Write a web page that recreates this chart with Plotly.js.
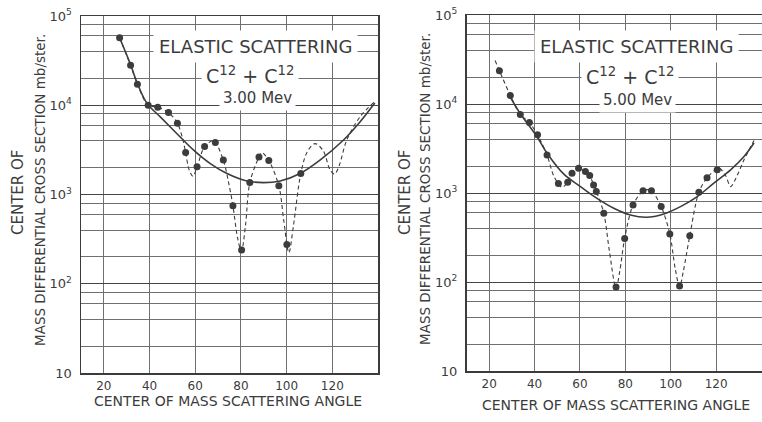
<!DOCTYPE html>
<html>
<head>
<meta charset="utf-8">
<script src="https://cdn.plot.ly/plotly-3.0.1.min.js"></script>
<style>
html,body{margin:0;padding:0;background:#ffffff;}
#chart{width:762px;height:422px;}
</style>
</head>
<body>
<div id="chart"></div>
<script>
// ---------- Data: 3.00 MeV panel ----------
const angle3Pts = [26.9,31.7,34.7,39.4,43.6,48.3,52.2,55.8,60.8,64.1,68.8,72.3,76.5,80.3,83.9,87.9,92.2,96.6,100.1,106.2];
const sigma3Pts = [57000,28000,17200,10000,9500,8300,6300,2950,2040,3440,3820,2430,748,239,1360,2630,2400,1250,276,1720];

const angle3Solid = [26.9,31.7,34.7,38.9,44.7,52,59.3,66.6,73.9,82.6,89.9,97.2,105.9,114.6,124.8,132.1,138.6];
const sigma3Solid = [57000,28500,17500,10500,7400,4800,3140,2220,1720,1420,1360,1420,1720,2430,4050,6500,10600];

const angle3Dash = [26.9,31.7,34.7,39.4,43.6,48.3,52.2,54.5,55.8,57.3,59,60.8,64.1,68,72.3,74.5,76.5,78.5,80.2,82,83.9,87.9,89.2,92.2,96.6,98.8,101,103,106.2,109,112.4,116,119,121,123,126.3,132.1,138.6];
const sigma3Dash = [57000,28000,17200,10000,9500,8300,6300,4200,2950,1900,1600,2040,3440,3990,2430,1400,748,330,230,450,1360,2630,2950,2400,1250,500,223,450,1720,3000,3720,3100,1900,1690,2100,4060,7400,11000];

// ---------- Data: 5.00 MeV panel ----------
const angle5Pts = [24.5,29.3,33.7,37.7,41.3,45.5,50.5,54.6,56.5,59.4,62.4,64.3,66,67.2,70.5,75.9,79.7,83.4,87.8,91.5,95.8,99.6,103.9,108.4,112.4,116,120.5];
const sigma5Pts = [23700,12500,7600,6200,4500,2670,1280,1320,1670,1900,1740,1570,1230,1040,593,88,309,735,1060,1060,703,347,90,331,1020,1480,1820];

const angle5Solid = [28.5,33.7,41,45.5,52.8,60.2,67.5,74.9,82.2,89.3,96.9,104.3,111.7,119,126.4,132.3,136.7];
const sigma5Solid = [13000,7800,4310,2800,1640,1180,870,674,567,534,582,703,912,1290,1820,2570,3640];

const angle5Dash = [22.6,24.5,29.3,33.7,37.7,41.3,45.5,48.5,52.1,54.6,56.5,59.4,62.4,64.3,66,67.2,70.5,73,75.9,77.5,79.7,83.4,87.8,89.5,91.5,95.8,99.6,102,103.9,105.5,108.4,112.4,116,121.2,124.2,126.4,129.4,132.3,136.7];
const sigma5Dash = [30800,23700,12500,7600,6200,4500,2670,1550,1160,1320,1670,1900,1740,1570,1230,1040,593,220,85,130,309,735,1060,1090,1060,703,347,140,88,130,331,1020,1480,1900,1560,1180,1600,2360,3890];

// ---------- Axis ticks ----------
const xTickVals = [20,40,60,80,100,120];
const yMajorVals = [10,100,1000,10000,100000];
const yMajorText = ['10','10<sup>2</sup>','10<sup>3</sup>','10<sup>4</sup>','10<sup>5</sup>'];
const yMinorVals = [20,40,60,80,200,400,600,800,2000,4000,6000,8000,20000,40000,60000,80000];

const titleX = 'CENTER OF MASS SCATTERING ANGLE';
const titleY1 = 'CENTER OF';
const titleY2 = 'MASS DIFFERENTIAL CROSS SECTION mb/ster.';
const boxLine1 = 'ELASTIC SCATTERING';
const boxLine2 = 'C<sup>12</sup> + C<sup>12</sup>';
const energy3 = '3.00 Mev';
const energy5 = '5.00 Mev';

// ---------- Styles ----------
const ink = '#3c3c3c';
const gridC = '#707070';
const FONT = 'DejaVu Sans, sans-serif';
const W = 762, H = 422;
const px = v => v / W;
const py = v => 1 - v / H;

function solid(x, y, xa, ya) {
  return {x, y, xaxis: xa, yaxis: ya, type: 'scatter', mode: 'lines',
    line: {color: ink, width: 1.6, shape: 'spline', smoothing: 1}, hoverinfo: 'skip'};
}
function dashed(x, y, xa, ya) {
  return {x, y, xaxis: xa, yaxis: ya, type: 'scatter', mode: 'lines',
    line: {color: ink, width: 1.1, dash: '4px,3px', shape: 'spline', smoothing: 0.9}, hoverinfo: 'skip'};
}
function pts(x, y, xa, ya) {
  return {x, y, xaxis: xa, yaxis: ya, type: 'scatter', mode: 'markers',
    marker: {color: ink, size: 7}, hoverinfo: 'skip'};
}

const data = [
  dashed(angle3Dash, sigma3Dash, 'x', 'y'),
  solid(angle3Solid, sigma3Solid, 'x', 'y'),
  pts(angle3Pts, sigma3Pts, 'x', 'y'),
  dashed(angle5Dash, sigma5Dash, 'x2', 'y2'),
  solid(angle5Solid, sigma5Solid, 'x2', 'y2'),
  pts(angle5Pts, sigma5Pts, 'x2', 'y2')
];

function xAxis(domain, anchor) {
  return {domain, anchor, range: [10, 140], tickmode: 'array', tickvals: xTickVals,
    showgrid: true, gridcolor: gridC, gridwidth: 1, zeroline: false,
    showline: true, mirror: true, linecolor: ink, linewidth: 1.5, ticks: '',
    tickfont: {family: FONT, size: 12, color: ink}, ticklabelstandoff: 1};
}
function yAxis(domain, anchor) {
  return {domain, anchor, type: 'log', range: [1, 5], tickmode: 'array',
    tickvals: yMajorVals, ticktext: yMajorText,
    showgrid: true, gridcolor: '#454545', gridwidth: 1, zeroline: false,
    minor: {tickmode: 'array', tickvals: yMinorVals, showgrid: true, gridcolor: gridC, gridwidth: 1, ticks: ''},
    showline: true, mirror: true, linecolor: ink, linewidth: 1.5, ticks: '',
    tickfont: {family: FONT, size: 13, color: ink}, ticklabelstandoff: 5};
}

function ann(text, x, y, size, opts) {
  return Object.assign({text, xref: 'paper', yref: 'paper', x: px(x), y: py(y),
    xanchor: 'center', yanchor: 'middle', showarrow: false,
    font: {family: FONT, size, color: ink}}, opts || {});
}

const annotations = [
  // left panel texts
  ann(boxLine1, 255, 46, 18, {bgcolor: '#ffffff', borderpad: 5}),
  ann(boxLine2, 250, 75, 19, {bgcolor: '#ffffff', borderpad: 4}),
  ann(energy3, 257, 98, 15, {bgcolor: '#ffffff', borderpad: 3}),
  ann(titleX, 228, 401, 14),
  ann(titleY1, 18, 193, 15, {textangle: -90}),
  ann(titleY2, 40, 190, 13.5, {textangle: -90}),
  // right panel texts
  ann(boxLine1, 636, 47, 18, {bgcolor: '#ffffff', borderpad: 5}),
  ann(boxLine2, 630, 76, 19, {bgcolor: '#ffffff', borderpad: 4}),
  ann(energy5, 637, 100, 15, {bgcolor: '#ffffff', borderpad: 3}),
  ann(titleX, 616, 405, 14),
  ann(titleY1, 405, 193, 15, {textangle: -90}),
  ann(titleY2, 425, 189, 13.5, {textangle: -90})
];

const layout = {
  width: W, height: H,
  margin: {l: 0, r: 0, t: 0, b: 0},
  paper_bgcolor: '#ffffff', plot_bgcolor: '#ffffff',
  showlegend: false,
  xaxis: xAxis([px(81), px(378)], 'y'),
  yaxis: yAxis([py(373), py(16)], 'x'),
  xaxis2: xAxis([px(466.5), px(761.5)], 'y2'),
  yaxis2: yAxis([py(371), py(15)], 'x2'),
  annotations
};

Plotly.newPlot('chart', data, layout, {staticPlot: true, displayModeBar: false});
</script>
</body>
</html>
